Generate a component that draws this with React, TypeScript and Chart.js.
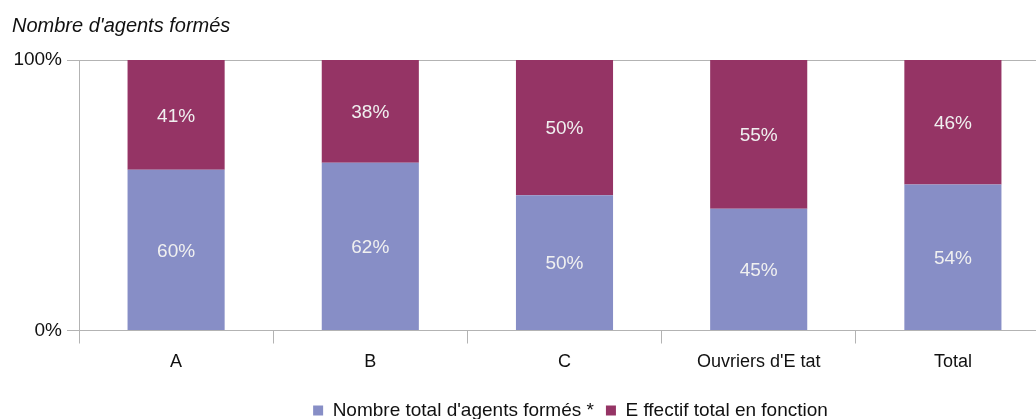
import React, { useEffect, useRef } from "react";
import { Chart, registerables } from "chart.js";

Chart.register(...registerables);

const categories = ["A", "B", "C", "Ouvriers d'E tat", "Total"];
const trainedPct = [60, 62, 50, 45, 54];
const staffPct = [41, 38, 50, 55, 46];
const seriesNames = ["Nombre total d'agents formés *", "E ffectif total en fonction"];
const yTicks = [0, 100];
const titleText = "Nombre d'agents formés";

const FONT = "'Liberation Sans', Arial, sans-serif";

const sums = trainedPct.map((v, i) => v + staffPct[i]);
const trainedNorm = trainedPct.map((v, i) => (v / sums[i]) * 100);
const staffNorm = staffPct.map((v, i) => (v / sums[i]) * 100);
const rawLabels = [trainedPct, staffPct];

const labelPlugin = {
  id: "segLabels",
  afterDatasetsDraw(chart: any) {
    const ctx = chart.ctx;
    ctx.save();
    ctx.font = `19px ${FONT}`;
    ctx.fillStyle = "#f0f0f0";
    ctx.textAlign = "center";
    ctx.textBaseline = "middle";
    chart.data.datasets.forEach((ds: any, di: number) => {
      const meta = chart.getDatasetMeta(di);
      meta.data.forEach((el: any, i: number) => {
        const y = (el.y + el.base) / 2 + 1.5;
        ctx.fillText(rawLabels[di][i] + "%", el.x, y);
      });
    });
    ctx.restore();
  },
};

export default function App() {
  const ref = useRef<HTMLCanvasElement>(null);
  useEffect(() => {
    if (!ref.current) return;
    const chart = new Chart(ref.current, {
      type: "bar",
      data: {
        labels: categories,
        datasets: [
          {
            label: seriesNames[0],
            data: trainedNorm,
            backgroundColor: "#878ec6",
            categoryPercentage: 1,
            barPercentage: 0.5,
            yAxisID: "y",
          },
          {
            label: seriesNames[1],
            data: staffNorm,
            backgroundColor: "#953465",
            categoryPercentage: 1,
            barPercentage: 0.5,
            yAxisID: "y",
          },
        ],
      },
      options: {
        animation: false,
        responsive: false,
        layout: { padding: { left: 12, right: 0, top: 0, bottom: 0 } },
        plugins: {
          title: {
            display: true,
            text: titleText,
            align: "start",
            color: "#111",
            font: { family: FONT, size: 20, style: "italic", weight: "normal" },
            padding: { top: 14, bottom: 22 },
          },
          legend: {
            position: "bottom",
            labels: {
              color: "#111",
              font: { family: FONT, size: 19 },
              boxWidth: 10,
              boxHeight: 10,
              padding: 12,
            },
          },
          tooltip: { enabled: false },
        },
        scales: {
          x: {
            stacked: true,
            grid: {
              offset: true,
              drawOnChartArea: false,
              color: "#b3b3b3",
              tickLength: 13,
            },
            border: { color: "#b3b3b3" },
            ticks: {
              color: "#111",
              font: { family: FONT, size: 18 },
              padding: 8,
              maxRotation: 0,
            },
            afterFit(scale: any) {
              scale.height = 58.5;
            },
          },
          y: {
            stacked: true,
            min: 0,
            max: 100,
            afterBuildTicks(scale: any) {
              scale.ticks = yTicks.map((v) => ({ value: v }));
            },
            ticks: {
              color: "#111",
              font: { family: FONT, size: 19 },
              padding: 5,
              callback: (v: any) => v + "%",
            },
            grid: { color: "#b3b3b3", tickLength: 12 },
            border: { color: "#b3b3b3" },
            afterFit(scale: any) {
              scale.width = 67;
            },
          },
          yRight: {
            type: "linear",
            position: "right",
            min: 0,
            max: 100,
            grid: { display: false },
            border: { display: false },
            ticks: { display: false },
            afterFit(scale: any) {
              scale.width = 79;
            },
          },
        },
      },
      plugins: [labelPlugin],
    });
    return () => chart.destroy();
  }, []);
  return (
    <div
      style={{
        position: "fixed",
        left: 0,
        top: 0,
        width: 1036,
        height: 419,
        overflow: "hidden",
        background: "#fff",
      }}
    >
      <canvas ref={ref} width={1129} height={430} style={{ display: "block" }} />
    </div>
  );
}
